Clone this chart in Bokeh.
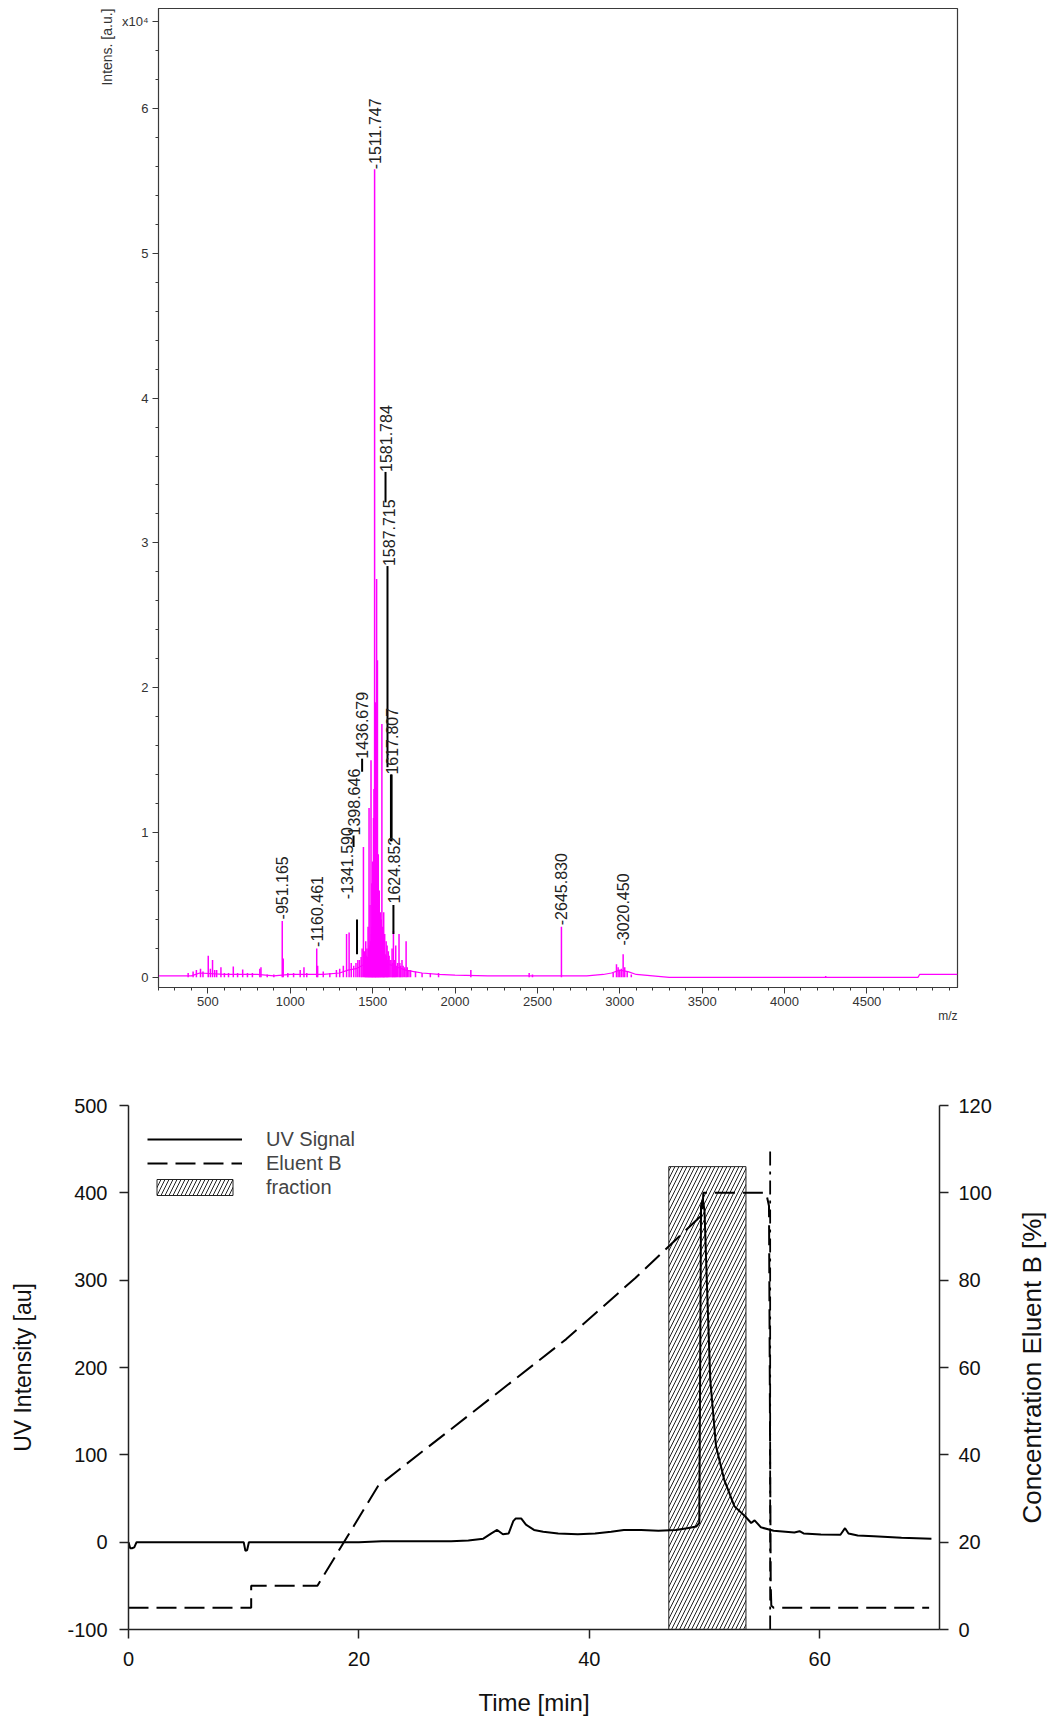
from math import pi
from bokeh.plotting import figure
from bokeh.models import (Range1d, LinearAxis, FixedTicker, Legend, LegendItem,
                          ColumnDataSource, Title)
from bokeh.layouts import row
from bokeh.embed import file_html
from bokeh.resources import INLINE
from bokeh.core.properties import value

FONT = "Liberation Sans"

# ---------------- Mass spectrum (intensity in units of 1e4 a.u.) ----------------
peak_mz = [380, 410, 430, 455, 470, 502, 515, 528, 541, 553, 579, 600, 625, 654, 680,
           711, 740, 770, 815, 822, 860, 900, 951.165, 957, 985, 1020, 1060, 1083,
           1100, 1160.461, 1166, 1200, 1240, 1280, 1300, 1322, 1341.59, 1357, 1370,
           1385, 1398.646, 1410, 1420, 1430, 1436, 1444, 1450, 1455, 1458, 1462, 1465,
           1469, 1472, 1475, 1478, 1481, 1484, 1487, 1490, 1493, 1495, 1498, 1500, 1503,
           1505, 1508, 1511.747, 1514, 1516, 1518, 1520, 1524, 1526, 1529, 1532, 1534,
           1537, 1540, 1543, 1546, 1549, 1552, 1556, 1559, 1562, 1565, 1567, 1570, 1573,
           1577, 1581.784, 1584, 1587.715, 1591, 1595, 1600, 1605, 1611, 1617.807,
           1621, 1626, 1631, 1635, 1640, 1645, 1652, 1660, 1665, 1670, 1678, 1685,
           1695, 1703, 1710, 1720, 1730, 1760, 1800, 1850, 1900, 2096, 2450, 2470,
           2645.83, 2960, 2980, 2990, 3000, 3010, 3020.45, 3030, 3045, 3070, 4250]
peak_int = [0.03, 0.04, 0.05, 0.06, 0.04, 0.15, 0.06, 0.12, 0.05, 0.05, 0.07, 0.03, 0.03,
            0.075, 0.03, 0.055, 0.03, 0.03, 0.06, 0.07, 0.02, 0.02, 0.39, 0.13, 0.03,
            0.03, 0.05, 0.07, 0.03, 0.20, 0.08, 0.04, 0.03, 0.05, 0.06, 0.08, 0.30,
            0.31, 0.10, 0.08, 0.10, 0.12, 0.12, 0.14, 0.20, 0.90, 0.18, 0.12, 0.25,
            0.15, 0.20, 0.14, 0.35, 0.20, 1.17, 0.22, 0.50, 0.25, 1.50, 0.30, 0.65,
            0.35, 0.80, 0.60, 1.10, 1.30, 5.58, 1.60, 1.90, 1.20, 1.00, 2.75, 1.10,
            2.19, 0.70, 0.85, 0.50, 0.60, 0.30, 0.45, 0.25, 0.40, 1.75, 0.35, 0.25,
            0.20, 0.45, 0.18, 0.30, 0.16, 0.25, 0.15, 0.22, 0.12, 0.18, 0.15, 0.12,
            0.12, 0.20, 0.10, 0.32, 0.12, 0.10, 0.22, 0.08, 0.10, 0.30, 0.10, 0.08,
            0.12, 0.08, 0.07, 0.25, 0.07, 0.05, 0.05, 0.04, 0.03, 0.03, 0.03, 0.05,
            0.03, 0.02, 0.35, 0.03, 0.09, 0.07, 0.05, 0.06, 0.16, 0.07, 0.04, 0.02, 0.01]
base_mz = [200, 400, 450, 600, 800, 900, 1000, 1100, 1200, 1300, 1350, 1400, 1450, 1480,
           1500, 1530, 1560, 1600, 1650, 1700, 1750, 1800, 1900, 2000, 2200, 2500, 2800,
           2900, 2950, 3000, 3050, 3100, 3200, 3300, 4000, 4810, 4820, 5050]
base_int = [0.01, 0.01, 0.03, 0.02, 0.02, 0.01, 0.02, 0.02, 0.02, 0.03, 0.05, 0.06, 0.09,
            0.13, 0.16, 0.15, 0.12, 0.09, 0.07, 0.05, 0.04, 0.03, 0.02, 0.015, 0.01,
            0.01, 0.01, 0.02, 0.03, 0.05, 0.04, 0.02, 0.01, 0.0, 0.0, 0.0, 0.02, 0.02]

label_text = ["-951.165", "-1160.461", "-1341.590", "1398.646", "1436.679", "-1511.747",
              "1581.784", "1587.715", "1617.807", "1624.852", "-2645.830", "-3020.450"]
label_mz = [951.165, 1160.461, 1344, 1384, 1436, 1511.747, 1578, 1598, 1618, 1630,
            2645.83, 3020.45]
label_start = [0.40, 0.21, 0.54, 0.98, 1.51, 5.58, 3.49, 2.84, 1.40, 0.51, 0.36, 0.22]

leader_mz = [1405, 1384, 1436, 1578, 1590, 1611, 1615, 1626]
leader_lo = [0.16, 0.90, 1.42, 3.28, 1.45, 0.94, 0.94, 0.30]
leader_hi = [0.40, 0.98, 1.51, 3.49, 2.84, 1.40, 1.40, 0.50]

ms_xticks = [500, 1000, 1500, 2000, 2500, 3000, 3500, 4000, 4500]
ms_xminor = list(range(200, 5001, 100))
ms_yticks = [0, 1, 2, 3, 4, 5, 6, 6.6]
ms_yminor = [k * 0.2 for k in range(0, 34)]
ms_ylabels = {6.6: "x10\u2074"}

# ---------------- Chromatogram ----------------
uv_time = [0, 0.15, 0.3, 0.5, 0.7, 5, 10.0, 10.15, 10.3, 10.45, 15, 20, 22, 25, 28, 29.5,
           30.8, 31.5, 32.0, 32.5, 33.0, 33.4, 33.6, 34.1, 34.5, 35.2, 36, 37.3, 39,
           40.5, 41.9, 43, 44.5, 46, 47.5, 48.5, 49.3, 49.55, 49.7, 49.85, 50.0, 50.2,
           50.5, 51.0, 51.7, 52.6, 53.5, 54.05, 54.35, 54.9, 56, 57.8, 58.25, 58.6, 60.1,
           61.8, 62.2, 62.5, 63.3, 64.7, 67.1, 69.7]
uv_signal = [0, -7, -7, -6, 0, 0, 0, -10, -9, 0, 0, 0, 1, 1, 1, 2, 4, 10, 14, 9, 10, 24,
             27, 27, 20, 14, 12, 10, 9, 10, 12, 14, 14, 13, 14, 16, 18, 22, 385, 393,
             380, 300, 186, 110, 72, 41, 30, 22, 25, 17, 13, 11, 12.6, 10, 8.8, 8.5, 16,
             10, 7.6, 6.9, 5, 4]
eluent_time = [0, 10.65, 10.65, 16.4, 21.65, 38, 44, 49.8, 49.9, 55.35, 55.6, 55.75,
               55.8, 56.0, 69.5]
eluent_b = [5, 5, 10, 10, 32.8, 66.5, 80.5, 95, 100, 100, 97, 10, 5.5, 5, 5]
stop_time = [55.7, 55.7]
stop_conc = [0, 110]
fraction_start = [46.9]
fraction_end = [53.6]
fraction_top = [106]
chrom_xticks = [0, 20, 40, 60]
uv_ticks = [-100, 0, 100, 200, 300, 400, 500]
uv_labels = {-100: "-100"}
conc_ticks = [0, 20, 40, 60, 80, 100, 120]
conc_title = ["Concentration Eluent B [%]"]

# ================= Top figure =================
MAG = "#FF00FF"
AX = "#3a3a3a"
p1 = figure(width=968, height=1030, x_range=Range1d(200, 5050), y_range=Range1d(-0.07, 6.69),
            output_backend="svg", toolbar_location=None,
            min_border_left=158, min_border_right=11, min_border_top=8, min_border_bottom=43)
p1.grid.visible = False
p1.outline_line_color = AX
p1.outline_line_width = 1.2

p1.line(base_mz, base_int, color=MAG, line_width=1.2)
p1.segment(x0=peak_mz, y0=0, x1=peak_mz, y1=peak_int, color=MAG, line_width=1.5)
p1.segment(x0=leader_mz, y0=leader_lo, x1=leader_mz, y1=leader_hi, color="black",
           line_width=2)
lab_src = ColumnDataSource(dict(x=label_mz, y=label_start, t=label_text))
p1.text(x="x", y="y", text="t", source=lab_src, angle=pi / 2, text_align="left",
        text_baseline="middle", text_font=value(FONT), text_font_size="16px",
        text_color="#222222")

xa = p1.xaxis[0]
xa.ticker = FixedTicker(ticks=ms_xticks, minor_ticks=ms_xminor)
ya = p1.yaxis[0]
ya.ticker = FixedTicker(ticks=ms_yticks, minor_ticks=ms_yminor)
ya.major_label_overrides = ms_ylabels
for a in (xa, ya):
    a.major_label_text_font = FONT
    a.major_label_text_font_size = "13px"
    a.major_label_text_color = "#333333"
    a.axis_line_color = AX
    a.major_tick_line_color = AX
    a.minor_tick_line_color = AX
    a.major_tick_out = 6
    a.major_tick_in = 0
    a.minor_tick_out = 3
    a.minor_tick_in = 0
xa.major_label_standoff = 3
ya.major_label_standoff = 4

p1.add_layout(Title(text="Intens. [a.u.]", align="right", vertical_align="middle",
                    standoff=5, text_font=FONT, text_font_size="14px",
                    text_font_style="normal", text_color="#333333"), "left")
p1.add_layout(Title(text="m/z", align="right", vertical_align="top", standoff=0,
                    text_font=FONT, text_font_size="12px", text_font_style="normal",
                    text_color="#333333"), "below")

# ================= Bottom figure =================
p2 = figure(width=1000, height=692, x_range=Range1d(0, 70.4), y_range=Range1d(-100, 500),
            output_backend="svg", toolbar_location=None,
            min_border_left=128, min_border_right=61, min_border_top=75,
            min_border_bottom=93)
p2.extra_y_ranges = {"conc": Range1d(0, 120)}
p2.grid.visible = False
p2.outline_line_color = None

q = p2.quad(left=fraction_start, right=fraction_end, bottom=0, top=fraction_top,
            y_range_name="conc", fill_alpha=0, hatch_pattern="/", hatch_color="#222222",
            hatch_scale=8, hatch_weight=1, line_color="#222222", line_width=1)
uv = p2.line(uv_time, uv_signal, color="black", line_width=2)
el = p2.line(eluent_time, eluent_b, y_range_name="conc", color="black", line_width=2,
             line_dash="20 8")
p2.line(stop_time, stop_conc, y_range_name="conc", color="black", line_width=1.8,
        line_dash="14 6 3 6")

legend = Legend(items=[LegendItem(label="UV Signal", renderers=[uv]),
                       LegendItem(label="Eluent B", renderers=[el]),
                       LegendItem(label="fraction", renderers=[q])],
                location=(19, 430), padding=0, margin=0, spacing=0,
                glyph_width=95, glyph_height=20, label_height=24, label_standoff=24,
                label_text_font=FONT, label_text_font_size="20px",
                background_fill_alpha=0, border_line_color=None)
p2.add_layout(legend)

p2.xaxis[0].ticker = FixedTicker(ticks=chrom_xticks)
p2.yaxis[0].ticker = FixedTicker(ticks=uv_ticks)
p2.yaxis[0].major_label_overrides = uv_labels
ra = LinearAxis(y_range_name="conc", ticker=FixedTicker(ticks=conc_ticks))
p2.add_layout(ra, "right")
p2.xaxis[0].axis_label = "Time [min]"
p2.yaxis[0].axis_label = "UV Intensity [au]"
for a in (p2.xaxis[0], p2.yaxis[0], ra):
    a.major_label_text_font = FONT
    a.major_label_text_font_size = "20px"
    a.major_label_text_color = "#111111"
    a.axis_label_text_font = FONT
    a.axis_label_text_font_style = "normal"
    a.axis_label_text_color = "#111111"
    a.axis_line_color = "#222222"
    a.axis_line_width = 1.5
    a.major_tick_line_color = "#222222"
    a.major_tick_line_width = 1.5
    a.major_tick_out = 9
    a.major_tick_in = 0
    a.minor_tick_out = 0
    a.minor_tick_in = 0
p2.xaxis[0].axis_label_text_font_size = "24px"
p2.yaxis[0].axis_label_text_font_size = "23px"
p2.xaxis[0].major_label_standoff = 13
p2.xaxis[0].axis_label_standoff = 20
p2.yaxis[0].major_label_standoff = 12
p2.yaxis[0].axis_label_standoff = 28
ra.major_label_standoff = 10

# narrow companion panel carrying the right-hand axis title (reads bottom to top)
p3 = figure(width=53, height=692, x_range=Range1d(0, 1), y_range=Range1d(-100, 500),
            output_backend="svg", toolbar_location=None,
            min_border_left=0, min_border_right=0, min_border_top=75,
            min_border_bottom=93)
p3.axis.visible = False
p3.grid.visible = False
p3.outline_line_color = None
p3.text(x=[0.6], y=[200], text=conc_title, angle=pi / 2, text_align="center",
        text_baseline="middle", text_font=value(FONT), text_font_size="26px",
        text_color="#111111")

open("out.html", "w").write(file_html([p1, row(p2, p3)], INLINE))
